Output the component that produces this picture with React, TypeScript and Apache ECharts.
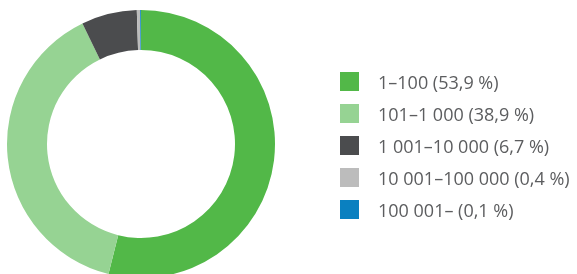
import React, { useEffect, useRef } from "react";
import * as echarts from "echarts";

const categories = ["1–100", "101–1 000", "1 001–10 000", "10 001–100 000", "100 001–"];
const shares = [53.9, 38.9, 6.7, 0.4, 0.1];
const shareLabels = ["53,9", "38,9", "6,7", "0,4", "0,1"];
const colors = ["#52b848", "#96d393", "#4b4c4e", "#bcbcbc", "#0a80c0"];

export default function App() {
  const ref = useRef<HTMLDivElement>(null);
  useEffect(() => {
    if (!ref.current) return;
    const chart = echarts.init(ref.current, null, { renderer: "svg" });
    const names = categories.map((c, i) => `${c} (${shareLabels[i]} %)`);
    chart.setOption({
      animation: false,
      color: colors,
      legend: {
        orient: "vertical",
        left: 335,
        top: 67,
        itemWidth: 19,
        itemHeight: 19,
        itemGap: 13,
        icon: "rect",
        data: names,
        textStyle: {
          fontFamily: "Open Sans",
          fontSize: 18,
          lineHeight: 19,
          color: "#5c5d5f",
          padding: [0, 0, 0, 14],
        },
      },
      series: [
        {
          type: "pie",
          center: [141, 144],
          radius: [94, 134],
          startAngle: 90,
          clockwise: true,
          label: { show: false },
          labelLine: { show: false },
          emphasis: { disabled: true },
          itemStyle: { borderWidth: 0 },
          data: names.map((n, i) => ({ name: n, value: shares[i] })),
        },
      ],
    });
    return () => chart.dispose();
  }, []);
  return (
    <div
      ref={ref}
      style={{ position: "fixed", left: 0, top: 0, width: 577, height: 274 }}
    />
  );
}
